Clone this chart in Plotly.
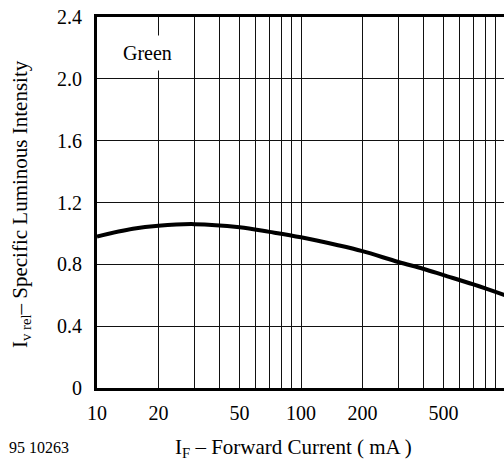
import plotly.graph_objects as go

# Data
current_mA = [10, 15, 20, 30, 50, 70, 100, 150, 200, 300, 400, 500, 700, 1000]
rel_intensity = [0.98, 1.03, 1.05, 1.06, 1.04, 1.01, 0.975, 0.925, 0.885, 0.815, 0.77, 0.73, 0.67, 0.60]

x_grid = [10, 20, 30, 40, 50, 60, 70, 80, 90, 100, 200, 300, 400, 500, 600, 700, 800, 900, 1000]
x_labels = {10: "10", 20: "20", 50: "50", 100: "100", 200: "200", 500: "500"}
y_ticks = [0, 0.4, 0.8, 1.2, 1.6, 2.0, 2.4]
y_labels = ["0", "0.4", "0.8", "1.2", "1.6", "2.0", "2.4"]

FONT = "Times New Roman, Liberation Serif, serif"

fig = go.Figure()
fig.add_trace(go.Scatter(
    x=current_mA, y=rel_intensity, mode="lines",
    line=dict(color="black", width=4, shape="spline", smoothing=1.0),
    showlegend=False, hoverinfo="skip"))

L, T, B = 97, 17, 74
W, H = 504, 462
pw = W - L
ph = H - T - B

fig.update_layout(
    width=W, height=H,
    margin=dict(l=L, r=0, t=T, b=B),
    paper_bgcolor="white", plot_bgcolor="white",
    font=dict(family=FONT, size=20, color="black"),
    xaxis=dict(
        type="log", range=[1, 1 + pw / 204.0],
        tickvals=x_grid,
        ticktext=[x_labels.get(v, " ") for v in x_grid],
        tickangle=0,
        showgrid=True, gridcolor="#111", gridwidth=1,
        showline=True, linecolor="black", linewidth=3, mirror=True,
        ticks="", ticklabelstandoff=5, zeroline=False,
        tickfont=dict(family=FONT, size=20, color="black"),
    ),
    yaxis=dict(
        range=[0, 2.4], tickvals=y_ticks, ticktext=y_labels,
        showgrid=True, gridcolor="#111", gridwidth=1,
        showline=True, linecolor="black", linewidth=3, mirror=False,
        ticks="", ticklabelstandoff=8, zeroline=False,
        tickfont=dict(family=FONT, size=20, color="black"),
    ),
)

fig.add_annotation(
    text="Green", xref="paper", yref="paper",
    x=(147 - L) / pw, y=(H - B - 53) / ph,
    xanchor="center", yanchor="middle", showarrow=False,
    bgcolor="white", borderpad=6,
    font=dict(family=FONT, size=20, color="black"))

fig.add_annotation(
    text="I<sub>v rel</sub>– Specific Luminous Intensity",
    xref="paper", yref="paper",
    x=(21 - L) / pw, y=(H - B - 204) / ph,
    xanchor="center", yanchor="middle", textangle=-90, showarrow=False,
    font=dict(family=FONT, size=21, color="black"))

fig.add_annotation(
    text="I<sub>F</sub> – Forward Current ( mA )",
    xref="paper", yref="paper",
    x=(293 - L) / pw, y=(H - B - 448) / ph,
    xanchor="center", yanchor="middle", showarrow=False,
    font=dict(family=FONT, size=21, color="black"))

fig.add_annotation(
    text="95 10263",
    xref="paper", yref="paper",
    x=(7 - L) / pw, y=(H - B - 447) / ph,
    xanchor="left", yanchor="middle", showarrow=False,
    font=dict(family=FONT, size=16, color="black"))

fig.write_html("out.html")
